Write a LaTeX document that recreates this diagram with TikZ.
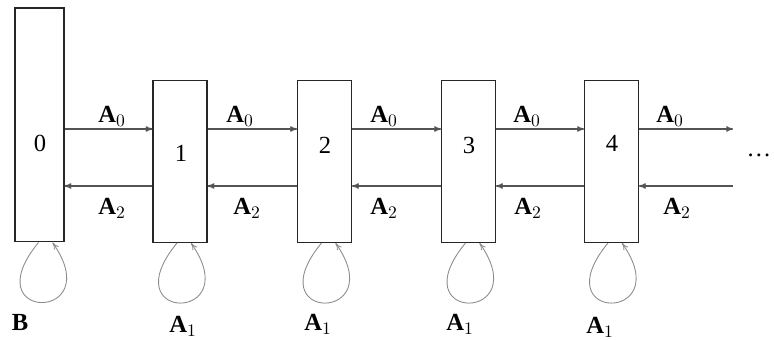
\documentclass[tikz,border=0pt]{standalone}
\usepackage{fontspec}
\setmainfont{Liberation Serif}
\usetikzlibrary{arrows.meta,calc}
\definecolor{edgegray}{gray}{0.33}
\definecolor{loopgray}{gray}{0.55}

\begin{document}
\begin{tikzpicture}[x=0.02cm,y=-0.02cm,
		level/.style={draw=black!85,line width=0.6pt,minimum width=1.08cm,minimum height=3.24cm,inner sep=0pt},
		move/.style={draw=edgegray,line width=0.9pt,-{To[length=4pt,width=3.2pt]}},
		self/.style={draw=loopgray,line width=0.5pt,-{To[length=4pt,width=3.2pt]}}]
		\tikzstyle{every node}+=[font=\fontsize{14}{16}\selectfont]
		\useasboundingbox (0,0) rectangle (774,340);
		% levels of the chain
		\node [level,minimum width=0.98cm,minimum height=4.68cm] (b0) at (39.5,125) {};
		\foreach \i/\x in {1/180,2/324.5,3/468.5,4/611.5}
			\node [level] (b\i) at (\x,161.5) {};
		\node (n0) at (40,143) {0};
		\node (n1) at (181,153) {1};
		\node (n2) at (325,145) {2};
		\node (n3) at (469,145) {3};
		\node (n4) at (612,143) {4};
		% rows of the forward and backward moves
		\coordinate (top) at (0,129);
		\coordinate (bot) at (0,186);
		\coordinate (topend) at (733,129);
		\coordinate (botend) at (733,186);
		\foreach \i/\j in {0/1,1/2,2/3,3/4} {
			\draw [move] (b\i.east |- top) -- (b\j.west |- top);
			\draw [move] (b\j.west |- bot) -- (b\i.east |- bot);
		}
		\draw [move] (b4.east |- top) -- (topend);
		\draw [move] (botend) -- (b4.east |- bot);
		\node [inner sep=1pt] (more) at (759,155) {\dots};
		% self loops under each level
		\foreach \i/\s in {0/-1,1/-3,2/-3,3/-3,4/-3.5}
			\draw [self] ($(b\i.south)+(\s,0)$) .. controls +(-66,80) and +(56,80) .. ($(b\i.south)+(\s+14,0)$);
		% labels
		\foreach \x/\y [count=\k] in {112/116,240/116,384/116,527/116,670/116}
			\node (a0\k) at (\x,\y) {$\mathbf{A}_0$};
		\foreach \x/\y [count=\k] in {112/208,247/208,384/208,528/208,677/208}
			\node (a2\k) at (\x,\y) {$\mathbf{A}_2$};
		\foreach \x/\y [count=\k] in {183/326,318/324,460/324,600/327}
			\node (a1\k) at (\x,\y) {$\mathbf{A}_1$};
		\node (lb) at (20,322) {$\mathbf{B}$};
	\end{tikzpicture}
\end{document}
